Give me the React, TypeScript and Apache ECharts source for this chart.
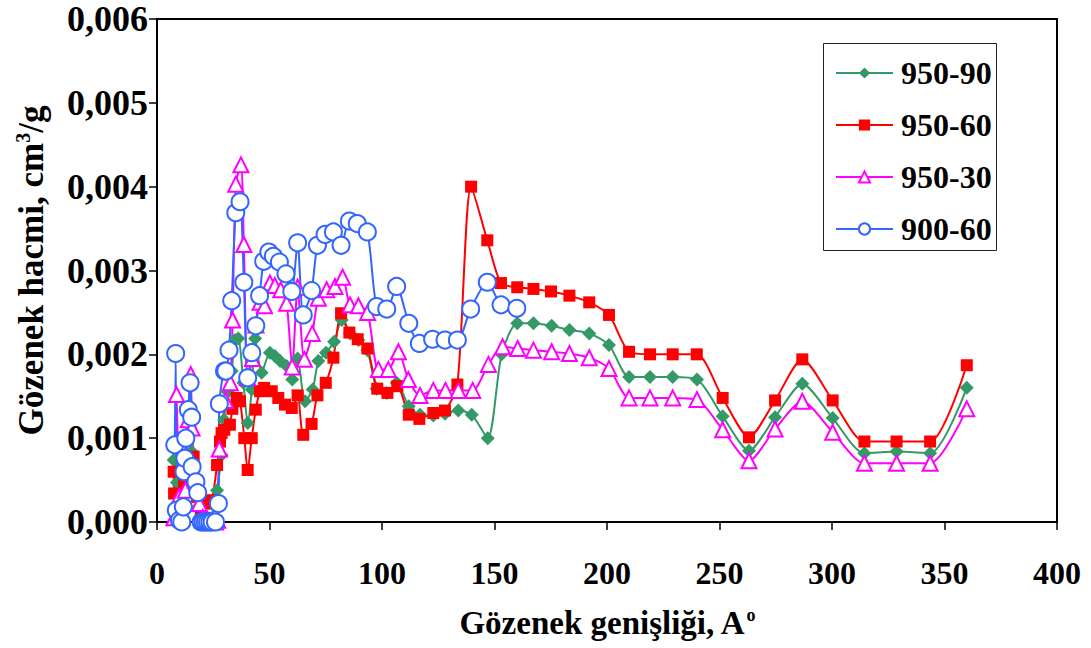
import React, { useEffect, useRef } from "react";
import * as echarts from "echarts";

// Pore width (A) / pore volume (cm3/g) pairs
const s950_90: [number, number][] = [
  [7.4, 0.00074], [8.9, 0.00047], [10.5, 0.0003], [12.0, 0.00055], [13.5, 0.0007], [15.4, 0.00084],
  [16.8, 0.00055], [18.3, 0.00018], [19.9, 0.00008], [21.5, 0.00004], [23.0, 0.00002], [24.5, 0.00005],
  [26.7, 0.00038], [28.7, 0.0008], [29.8, 0.00122], [31.5, 0.00155], [33.2, 0.0018], [34.7, 0.00217],
  [36.1, 0.00219], [38.4, 0.00166], [40.3, 0.00118], [42.1, 0.00158], [43.6, 0.00219], [46.5, 0.00178],
  [50.2, 0.00202], [52.4, 0.00198], [54.7, 0.00192], [57.6, 0.00186], [60.1, 0.0017], [62.5, 0.00195],
  [65.8, 0.00144], [69.2, 0.00158], [71.7, 0.00192], [75.1, 0.00202], [78.7, 0.00215], [82.1, 0.00241],
  [85.8, 0.00225], [89.5, 0.00217], [93.5, 0.00205], [97.6, 0.00159], [102.1, 0.00154], [106.5, 0.00166],
  [111.9, 0.00138], [116.9, 0.00128], [122.8, 0.00127], [128.0, 0.00129], [133.9, 0.00133], [139.9, 0.00128],
  [147.0, 0.001], [153.2, 0.002], [160.1, 0.00237], [167.3, 0.00237], [175.4, 0.00234], [183.3, 0.00229],
  [192.1, 0.00225], [200.9, 0.00211], [209.8, 0.00173], [219.1, 0.00173], [229.2, 0.00173], [240.0, 0.0017],
  [251.4, 0.00126], [263.1, 0.00085], [274.7, 0.00125], [286.8, 0.00165], [300.3, 0.00124], [314.4, 0.00082],
  [328.7, 0.00084], [343.6, 0.00082], [359.9, 0.0016],
];

const s950_60: [number, number][] = [
  [7.4, 0.0006], [7.6, 0.00034], [10.0, 0.0002], [12.0, 0.00045], [14.0, 0.00055], [15.6, 0.00046],
  [16.3, 0.00078], [17.8, 0.0003], [19.5, 0.00008], [21.0, 0.00005], [22.5, 0.00022], [24.4, 0.00026],
  [26.7, 0.00068], [28.0, 0.00096], [28.7, 0.00106], [29.9, 0.0011], [32.4, 0.00116], [33.5, 0.00135],
  [35.4, 0.00148], [36.9, 0.00144], [38.8, 0.001], [40.3, 0.00062], [42.1, 0.001], [43.9, 0.00134],
  [45.8, 0.00156], [47.6, 0.0016], [51.0, 0.00156], [53.9, 0.00148], [56.9, 0.0014], [59.9, 0.00136],
  [62.5, 0.00151], [65.0, 0.00104], [68.7, 0.00117], [71.3, 0.00151], [75.0, 0.00166], [78.4, 0.00196],
  [81.8, 0.00249], [85.5, 0.00226], [89.2, 0.00218], [93.5, 0.00207], [97.9, 0.00159], [102.4, 0.00154],
  [106.8, 0.00162], [111.9, 0.00128], [116.6, 0.00123], [122.8, 0.0013], [128.0, 0.00133], [133.5, 0.00164],
  [139.6, 0.004], [146.8, 0.00336], [152.9, 0.00285], [160.1, 0.0028], [167.3, 0.00278], [175.1, 0.00275],
  [183.3, 0.0027], [192.1, 0.00262], [200.9, 0.00247], [209.8, 0.00203], [219.1, 0.002], [229.2, 0.002],
  [239.9, 0.002], [251.4, 0.00148], [263.1, 0.00101], [274.7, 0.00145], [286.8, 0.00194], [300.3, 0.00145],
  [314.4, 0.00096], [328.7, 0.00096], [343.6, 0.00096], [359.9, 0.00187],
];

const s950_30: [number, number][] = [
  [7.5, 0.00005], [8.7, 0.00152], [9.8, 0.0003], [11.2, 0.00005], [12.6, 0.00038], [13.9, 0.00122],
  [15.0, 0.00176], [15.6, 0.00112], [17.0, 0.0005], [18.8, 0.00022], [20.3, 0.00005], [22.0, 0.0],
  [24.0, 0.0], [26.0, 0.0], [27.0, 0.00002], [27.7, 0.00087], [30.5, 0.00145], [32.6, 0.00166],
  [33.6, 0.00241], [35.0, 0.00403], [37.3, 0.00426], [38.6, 0.00331], [40.3, 0.00172], [42.4, 0.00195],
  [44.0, 0.00235], [45.8, 0.00262], [47.8, 0.00258], [50.2, 0.00285], [52.4, 0.00282], [55.0, 0.00277],
  [57.6, 0.00261], [60.1, 0.00185], [62.5, 0.0028], [65.5, 0.00194], [69.0, 0.00225], [71.7, 0.00267],
  [75.4, 0.00277], [79.1, 0.00281], [82.5, 0.00292], [85.8, 0.00259], [89.5, 0.00258], [93.6, 0.0025],
  [98.4, 0.00182], [102.8, 0.00182], [107.3, 0.00203], [111.7, 0.0017], [116.9, 0.00151], [122.8, 0.00157],
  [128.2, 0.00157], [133.9, 0.00157], [140.3, 0.00157], [147.3, 0.00188], [153.6, 0.00209], [160.3, 0.00207],
  [167.3, 0.00205], [175.4, 0.00203], [183.3, 0.00201], [192.1, 0.00196], [200.9, 0.00183], [209.8, 0.00148],
  [219.1, 0.00148], [229.2, 0.00148], [240.0, 0.00146], [251.4, 0.0011], [263.1, 0.00073], [274.7, 0.00111],
  [286.8, 0.00144], [300.3, 0.00107], [314.4, 0.0007], [328.7, 0.0007], [343.6, 0.0007], [359.9, 0.00135],
];

const s900_60: [number, number][] = [
  [7.9, 0.00092], [8.3, 0.00201], [8.6, 0.00014], [10.0, 0.00002], [11.0, 0.0], [11.7, 0.00018],
  [12.0, 0.0006], [12.4, 0.00076], [12.8, 0.001], [13.9, 0.00134], [14.7, 0.00166], [15.4, 0.00125],
  [15.6, 0.00066], [17.3, 0.00048], [18.1, 0.00035], [19.6, 0.0], [20.5, 0.0], [21.5, 0.0],
  [22.5, 0.0], [23.5, 0.0], [24.5, 0.0], [26.0, 0.0], [27.3, 0.00022], [27.7, 0.00141],
  [30.0, 0.0018], [30.6, 0.0018], [32.0, 0.00205], [33.2, 0.00264], [35.0, 0.00369], [36.9, 0.00382],
  [38.6, 0.00286], [40.3, 0.00172], [42.1, 0.00202], [43.9, 0.00234], [45.6, 0.0027], [47.4, 0.00311],
  [49.7, 0.00322], [51.7, 0.00317], [54.4, 0.0031], [57.3, 0.00296], [59.9, 0.00275], [62.5, 0.00333],
  [65.0, 0.00247], [68.7, 0.00276], [71.3, 0.0033], [74.7, 0.00343], [78.4, 0.00346], [81.8, 0.0033],
  [85.5, 0.00359], [89.0, 0.00356], [93.5, 0.00346], [97.6, 0.00257], [102.1, 0.00254], [106.5, 0.00281],
  [111.9, 0.00237], [116.6, 0.00213], [122.5, 0.00218], [128.0, 0.00217], [133.5, 0.00217], [139.4, 0.00254],
  [146.8, 0.00286], [152.9, 0.00259], [159.9, 0.00255],
];

const seriesNames = ["950-90", "950-60", "950-30", "900-60"];
const seriesColors = ["#339966", "#FF0000", "#FF00FF", "#3366FF"];
const xTicks = { min: 0, max: 400, interval: 50 };
const yTicks = { min: 0, max: 0.006, interval: 0.001 };

const FONT = "'Liberation Serif', 'Times New Roman', serif";

export default function App() {
  const ref = useRef<HTMLDivElement>(null);

  useEffect(() => {
    if (!ref.current) return;
    const chart = echarts.init(ref.current, undefined, { renderer: "svg" });

    const datasets = [s950_90, s950_60, s950_30, s900_60];
    const symbols = ["diamond", "rect", "emptyTriangle", "emptyCircle"];
    const sizes = [14, 12, 15, 17];

    const series = datasets.map((d, i) => ({
      name: seriesNames[i],
      type: "line",
      data: d,
      smooth: 0.25,
      symbol: symbols[i],
      symbolSize: sizes[i],
      showAllSymbol: true,
      lineStyle: { color: seriesColors[i], width: 2 },
      itemStyle: { color: seriesColors[i], borderColor: seriesColors[i], borderWidth: i >= 2 ? 2 : 0 },
      emphasis: { disabled: true },
    }));

    chart.setOption({
      animation: false,
      graphic: [
        {
          type: "rect",
          left: 823,
          top: 43,
          shape: { width: 173, height: 207 },
          style: { fill: "#fff", stroke: "#222", lineWidth: 1 },
          z: 1,
        },
      ],
      grid: {
        left: 157,
        right: 34,
        top: 19,
        bottom: 126,
        show: true,
        borderColor: "#000",
        borderWidth: 2,
        containLabel: false,
      },
      legend: {
        orient: "vertical",
        left: 823,
        top: 43,
        padding: [14, 8, 14, 12],
        itemWidth: 57,
        itemHeight: 14,
        itemGap: 20,
        z: 5,
        textStyle: { fontFamily: FONT, fontWeight: "bold", fontSize: 32, color: "#000", lineHeight: 32, padding: [0, 0, 0, 3] },
        data: seriesNames,
      },
      xAxis: {
        type: "value",
        min: xTicks.min,
        max: xTicks.max,
        interval: xTicks.interval,
        name: "{n|Gözenek genişliği, A}{s|o}",
        nameLocation: "middle",
        nameGap: 84,
        nameTextStyle: {
          rich: {
            n: { fontFamily: FONT, fontWeight: "bold", fontSize: 33, color: "#000", lineHeight: 34 },
            s: { fontFamily: FONT, fontWeight: "bold", fontSize: 18, color: "#000", verticalAlign: "top", lineHeight: 34, padding: [0, 0, 12, 1] },
          },
        },
        axisLine: { lineStyle: { color: "#000", width: 2 } },
        axisTick: { show: true, inside: false, length: 8, lineStyle: { color: "#000", width: 1.5 } },
        axisLabel: { fontFamily: FONT, fontWeight: "bold", fontSize: 32, color: "#000", margin: 35 },
        splitLine: { show: false },
      },
      yAxis: {
        type: "value",
        min: yTicks.min,
        max: yTicks.max,
        interval: yTicks.interval,
        name: "{n|Gözenek hacmi, cm}{s|3}{n|/g}",
        nameLocation: "middle",
        nameGap: 108,
        nameTextStyle: {
          rich: {
            n: { fontFamily: FONT, fontWeight: "bold", fontSize: 35, color: "#000", lineHeight: 36 },
            s: { fontFamily: FONT, fontWeight: "bold", fontSize: 20, color: "#000", verticalAlign: "top", lineHeight: 36, padding: [0, 0, 14, 0] },
          },
        },
        axisLine: { show: true, lineStyle: { color: "#000", width: 2 } },
        axisTick: { show: true, inside: false, length: 8, lineStyle: { color: "#000", width: 1.5 } },
        axisLabel: {
          fontFamily: FONT,
          fontWeight: "bold",
          fontSize: 36,
          color: "#000",
          margin: 9,
          formatter: (v: number) => v.toFixed(3).replace(".", ","),
        },
        splitLine: { show: false },
      },
      series,
    });

    return () => chart.dispose();
  }, []);

  return (
    <div
      ref={ref}
      style={{ position: "absolute", left: 0, top: 0, width: 1091, height: 648 }}
    />
  );
}
